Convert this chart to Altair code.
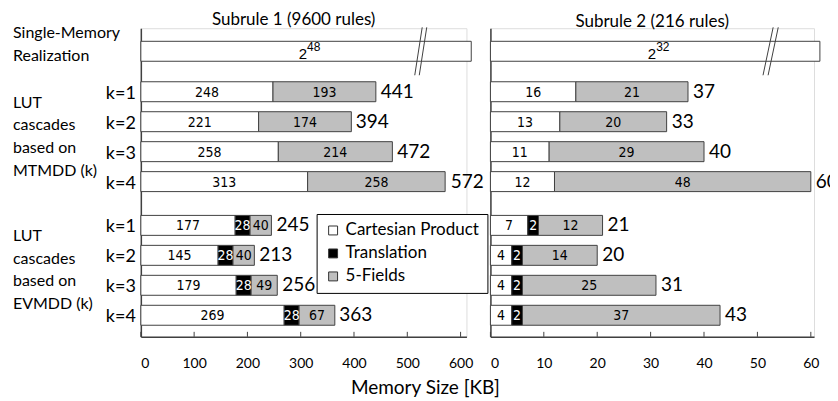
import altair as alt
import pandas as pd

# ---------------- data ----------------
panel_titles = ["Subrule 1 (9600 rules)", "Subrule 2 (216 rules)"]
segments = ["Cartesian Product", "Translation", "5-Fields"]
seg_colors = ["#ffffff", "#000000", "#bfbfbf"]
k_labels = ["k=1", "k=2", "k=3", "k=4"]
group_labels = ["Single-Memory\nRealization",
                "LUT\ncascades\nbased on\nMTMDD (k)",
                "LUT\ncascades\nbased on\nEVMDD (k)"]

s1_mt_cp = [248, 221, 258, 313]
s1_mt_f = [193, 174, 214, 258]
s1_mt_total = [441, 394, 472, 572]
s1_ev_cp = [177, 145, 179, 269]
s1_ev_t = [28, 28, 28, 28]
s1_ev_f = [40, 40, 49, 67]
s1_ev_total = [245, 213, 256, 363]

s2_mt_cp = [16, 13, 11, 12]
s2_mt_f = [21, 20, 29, 48]
s2_mt_total = [37, 33, 40, 60]
s2_ev_cp = [7, 4, 4, 4]
s2_ev_t = [2, 2, 2, 2]
s2_ev_f = [12, 14, 25, 37]
s2_ev_total = [21, 20, 31, 43]

single_base = ["2", "2"]
single_exp = ["48", "32"]
single_extent = [620, 61.7]      # drawn length of the broken bar
break_at = [521, 52.0]           # where the "//" break sits
break_slant = [7.0, 0.95]
break_gap = [8.5, 0.95]
x_max = [611, 60.6]
x_ticks = [[0, 100, 200, 300, 400, 500, 600], [0, 10, 20, 30, 40, 50, 60]]

# ---------------- layout (in y data units, 1 unit = 30 px) ----------------
Y_MAX = 10.3
PLOT_H = 309
y_single = 0.77
y_mt = [2.12 + i for i in range(4)]
y_ev = [6.58 + i for i in range(4)]
y_groups = [0.15, 2.48, 6.92]     # first line of each group label
HALF = 0.333

LABEL_FONT = "Lato"
NUM_FONT = "Liberation Sans Narrow, DejaVu Sans Condensed, sans-serif"
STROKE = "#404040"


def build_rows(mt_cp, mt_f, mt_tot, ev_cp, ev_t, ev_f, ev_tot):
    segs, totals = [], []
    for i in range(4):
        y = y_mt[i]
        parts = [("Cartesian Product", mt_cp[i]), ("5-Fields", mt_f[i])]
        s = 0
        for name, v in parts:
            segs.append(dict(y=y, y0=y - HALF, y1=y + HALF, start=s, end=s + v,
                             mid=s + v / 2, segment=name, label=str(v),
                             tcolor="white" if name == "Translation" else "black"))
            s += v
        totals.append(dict(y=y, total=mt_tot[i], label=str(mt_tot[i])))
    for i in range(4):
        y = y_ev[i]
        parts = [("Cartesian Product", ev_cp[i]), ("Translation", ev_t[i]), ("5-Fields", ev_f[i])]
        s = 0
        for name, v in parts:
            segs.append(dict(y=y, y0=y - HALF, y1=y + HALF, start=s, end=s + v,
                             mid=s + v / 2, segment=name, label=str(v),
                             tcolor="white" if name == "Translation" else "black"))
            s += v
        totals.append(dict(y=y, total=ev_tot[i], label=str(ev_tot[i])))
    return pd.DataFrame(segs), pd.DataFrame(totals)


def panel(idx, seg_df, tot_df, show_left):
    xmax = x_max[idx]
    xscale = alt.Scale(domain=[0, xmax], nice=False, zero=True)
    yscale = alt.Scale(domain=[0, Y_MAX], reverse=True, nice=False, zero=False)

    legend = None
    if show_left:
        legend = alt.Legend(title=None, orient="none", legendX=176, legendY=186,
                            strokeColor="black", fillColor="white", padding=8,
                            labelFont=LABEL_FONT, labelFontSize=17, labelColor="black",
                            symbolType="square", symbolSize=80, symbolStrokeColor="#333333",
                            symbolStrokeWidth=1, rowPadding=5, labelOffset=4)

    bars = alt.Chart(seg_df).mark_rect(stroke=STROKE, strokeWidth=1).encode(
        x=alt.X("start:Q", scale=xscale,
                axis=alt.Axis(title=None, values=x_ticks[idx], ticks=False, grid=False,
                              labelFont=LABEL_FONT, labelFontSize=14, labelColor="black",
                              labelPadding=20, domainColor=STROKE, domainWidth=1.5)),
        x2="end:Q",
        y=alt.Y("y0:Q", scale=yscale,
                axis=alt.Axis(title=None, labels=False, ticks=False, grid=False,
                              domainColor=STROKE, domainWidth=1.5)),
        y2="y1:Q",
        color=alt.Color("segment:N", scale=alt.Scale(domain=segments, range=seg_colors),
                        legend=legend),
    )

    seg_text = alt.Chart(seg_df).mark_text(font=NUM_FONT, fontSize=14, baseline="middle", dy=1).encode(
        x="mid:Q", y="y:Q", text="label:N",
        color=alt.Color("tcolor:N", scale=None),
    )

    tot_text = alt.Chart(tot_df).mark_text(font=LABEL_FONT, fontSize=19, align="left",
                                           baseline="middle", dx=5, color="black").encode(
        x="total:Q", y="y:Q", text="label:N")

    single_df = pd.DataFrame([dict(y0=y_single - HALF, y1=y_single + HALF, y=y_single,
                                   start=0, end=single_extent[idx], mid=single_extent[idx] / 2,
                                   base=single_base[idx], exp=single_exp[idx])])
    single = alt.Chart(single_df).mark_rect(fill="white", stroke=STROKE, strokeWidth=1).encode(
        x="start:Q", x2="end:Q", y="y0:Q", y2="y1:Q")
    s_base = alt.Chart(single_df).mark_text(font="Liberation Sans", fontSize=15, align="right",
                                            baseline="middle", dx=1, dy=3, color="black").encode(
        x="mid:Q", y="y:Q", text="base:N")
    s_exp = alt.Chart(single_df).mark_text(font="Liberation Sans", fontSize=12, align="left",
                                           baseline="middle", dx=1, dy=-4, color="black").encode(
        x="mid:Q", y="y:Q", text="exp:N")

    b, sl, g = break_at[idx], break_slant[idx], break_gap[idx]
    brk_df = pd.DataFrame([dict(xa=b + sl, xb=b - sl, ya=-0.03, yb=1.57),
                           dict(xa=b + sl + g, xb=b - sl + g, ya=-0.03, yb=1.57)])
    brk = alt.Chart(brk_df).mark_rule(color=STROKE, strokeWidth=1).encode(
        x="xa:Q", x2="xb:Q", y="ya:Q", y2="yb:Q")

    tick_df = pd.DataFrame({"v": x_ticks[idx]})
    ticks = alt.Chart(tick_df).mark_rule(color=STROKE, strokeWidth=1).encode(
        x="v:Q", y=alt.value(PLOT_H), y2=alt.value(PLOT_H - 5))

    layers = [single, bars, brk, s_base, s_exp, seg_text, tot_text, ticks]

    if show_left:
        k_df = pd.DataFrame({"y": y_mt + y_ev, "label": k_labels + k_labels})
        k_text = alt.Chart(k_df).mark_text(font=LABEL_FONT, fontSize=18, align="right",
                                           baseline="middle", dy=2, color="black").encode(
            x=alt.value(-5), y="y:Q", text="label:N")
        g_df = pd.DataFrame({"y": y_groups, "label": group_labels})
        g_text = alt.Chart(g_df).mark_text(font=LABEL_FONT, fontSize=16, align="left",
                                           baseline="middle", lineHeight=23,
                                           lineBreak="\n", color="black").encode(
            x=alt.value(-128), y="y:Q", text="label:N")
        layers += [k_text, g_text]

    width = 326 if idx == 0 else 324
    return alt.layer(*layers).properties(
        width=width, height=PLOT_H,
        title=alt.TitleParams(panel_titles[idx], font=LABEL_FONT, fontSize=17,
                              fontWeight="normal", color="black", anchor="middle",
                              dx=-10 if idx == 0 else 0, offset=-4),
    )


seg1, tot1 = build_rows(s1_mt_cp, s1_mt_f, s1_mt_total, s1_ev_cp, s1_ev_t, s1_ev_f, s1_ev_total)
seg2, tot2 = build_rows(s2_mt_cp, s2_mt_f, s2_mt_total, s2_ev_cp, s2_ev_t, s2_ev_f, s2_ev_total)

left = panel(0, seg1, tot1, True)
right = panel(1, seg2, tot2, False)

chart = alt.hconcat(left, right, spacing=24, bounds="flush").resolve_scale(
    color="independent").resolve_legend(color="independent").properties(
    title=alt.TitleParams("Memory Size [KB]", orient="bottom", anchor="middle",
                          font=LABEL_FONT, fontSize=19, fontWeight="normal",
                          color="black", offset=8),
    padding={"left": 4, "top": 2, "right": -9, "bottom": 0},
).configure_view(stroke=None).configure(background="white")

chart.save("out.html", embed_options={"renderer": "svg", "actions": False})
